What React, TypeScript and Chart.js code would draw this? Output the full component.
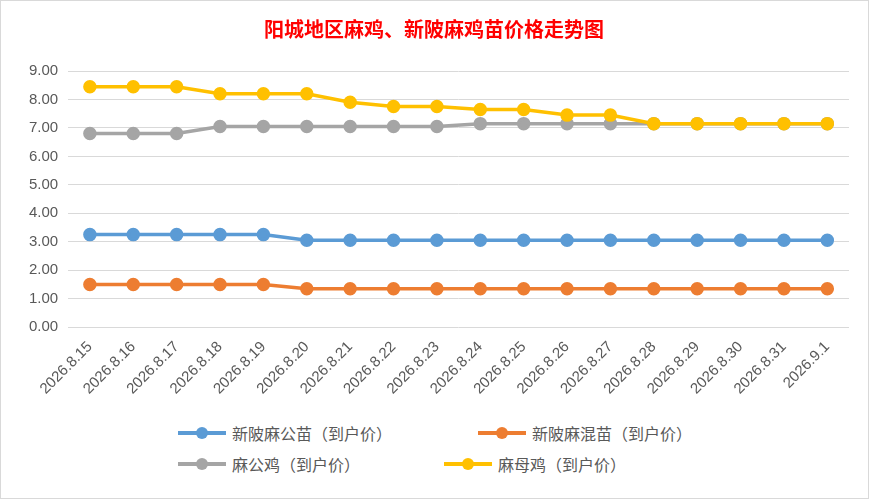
import React, { useEffect, useRef } from "react";
import { Chart, registerables } from "chart.js";
Chart.register(...registerables);

const categories = ["2026.8.15","2026.8.16","2026.8.17","2026.8.18","2026.8.19","2026.8.20","2026.8.21","2026.8.22","2026.8.23","2026.8.24","2026.8.25","2026.8.26","2026.8.27","2026.8.28","2026.8.29","2026.8.30","2026.8.31","2026.9.1"];
const maleChick = [3.25,3.25,3.25,3.25,3.25,3.05,3.05,3.05,3.05,3.05,3.05,3.05,3.05,3.05,3.05,3.05,3.05,3.05];
const mixedChick = [1.5,1.5,1.5,1.5,1.5,1.35,1.35,1.35,1.35,1.35,1.35,1.35,1.35,1.35,1.35,1.35,1.35,1.35];
const rooster = [6.8,6.8,6.8,7.05,7.05,7.05,7.05,7.05,7.05,7.15,7.15,7.15,7.15,7.15,7.15,7.15,7.15,7.15];
const hen = [8.45,8.45,8.45,8.2,8.2,8.2,7.9,7.75,7.75,7.65,7.65,7.45,7.45,7.15,7.15,7.15,7.15,7.15];
const seriesNames = ["新陂麻公苗（到户价）","新陂麻混苗（到户价）","麻公鸡（到户价）","麻母鸡（到户价）"];
const colors = ["#5B9BD5","#ED7D31","#A5A5A5","#FFC000"];

export default function App() {
  const ref = useRef<HTMLCanvasElement>(null);
  useEffect(() => {
    document.body.style.margin = "0";
    const data = [maleChick, mixedChick, rooster, hen];
    const order = [0, 1, 2, 3];
    const chart = new Chart(ref.current!, {
      type: "line",
      data: {
        labels: categories,
        datasets: order.map((i) => ({
          label: seriesNames[i],
          data: data[i],
          borderColor: colors[i],
          backgroundColor: colors[i],
          borderWidth: 3.5,
          pointRadius: 5,
          pointHoverRadius: 5,
          tension: 0,
          order: i === 3 ? 0 : 1,
        })),
      },
      options: {
        animation: false,
        responsive: false,
        layout: { padding: { left: 18, right: 19, top: 6, bottom: 0 } },
        plugins: {
          legend: { display: false },
          tooltip: { enabled: false },
          title: {
            display: true,
            text: "阳城地区麻鸡、新陂麻鸡苗价格走势图",
            color: "#FF0000",
            font: { size: 20, weight: "bold", family: "Noto Sans CJK SC" },
            padding: { top: 10, bottom: 30 },
          },
        },
        scales: {
          x: {
            offset: true,
            grid: { display: false },
            border: { display: false },
            ticks: { color: "#595959", font: { size: 15, family: "Liberation Sans" }, maxRotation: 45, minRotation: 45, autoSkip: false },
          },
          y: {
            min: 0, max: 9,
            ticks: { stepSize: 1, color: "#595959", padding: 10, font: { size: 15, family: "Liberation Sans" }, callback: (v: any) => Number(v).toFixed(2) },
            grid: { color: "#D9D9D9", lineWidth: 1, drawTicks: false },
            border: { display: false },
          },
        },
      },
    });
    return () => chart.destroy();
  }, []);

  const item = (i: number, left: number, top: number) => (
    <div key={i} style={{ position: "absolute", left, top, display: "flex", alignItems: "center", fontFamily: "Noto Sans CJK SC", fontSize: 16, color: "#595959" }}>
      <div style={{ position: "relative", width: 48, height: 12, marginRight: 6 }}>
        <div style={{ position: "absolute", left: 0, right: 0, top: 4, height: 4, background: colors[i] }} />
        <div style={{ position: "absolute", left: 18, top: 0, width: 12, height: 12, borderRadius: 6, background: colors[i] }} />
      </div>
      {seriesNames[i]}
    </div>
  );

  return (
    <div style={{ position: "relative", width: 867, height: 497, border: "1px solid #D9D9D9", background: "#fff" }}>
      <canvas ref={ref} width={867} height={400} style={{ display: "block" }} />
      {item(0, 177, 420)}
      {item(1, 477, 420)}
      {item(2, 177, 451)}
      {item(3, 443, 451)}
    </div>
  );
}
